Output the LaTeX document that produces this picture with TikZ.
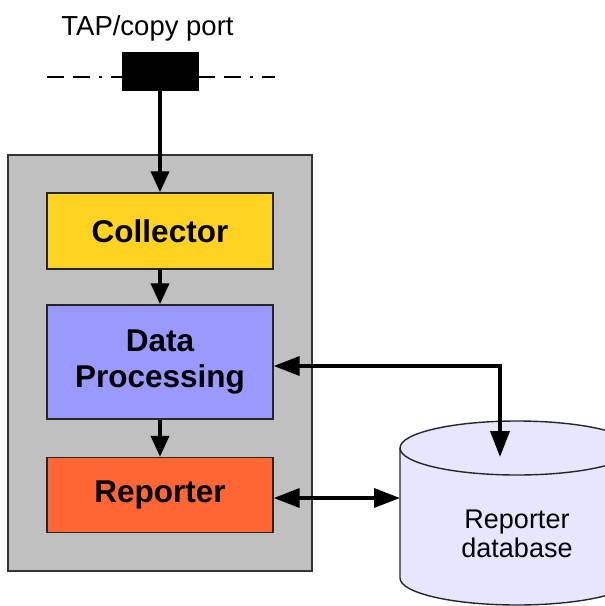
\documentclass[tikz,border=0pt]{standalone}
\usepackage{fontspec}
\setmainfont{Liberation Sans}
\usetikzlibrary{arrows.meta,calc}
\definecolor{colyel}{HTML}{FFD320}
\definecolor{colblue}{HTML}{9999FF}
\definecolor{colorange}{HTML}{FF6633}
\definecolor{colgrey}{HTML}{C0C0C0}
\definecolor{coldb}{HTML}{E6E6FF}
\tikzset{
  box/.style={draw=black!85,line width=1.4pt,minimum width=226pt,inner sep=0pt,align=center,
    font=\fontsize{31.5}{36}\selectfont\bfseries},
  conn/.style={line width=3.6pt,-{Triangle[length=21pt,width=18pt]}},
  biconn/.style={line width=3.6pt,{Triangle[length=26pt,width=19pt]}-{Triangle[length=26pt,width=19pt]}},
  tapline/.style={line width=1.8pt,dash pattern=on 17pt off 9pt on 17pt off 9pt on 3pt off 9pt},
}
\begin{document}
\begin{tikzpicture}[x=1pt,y=-1pt]
\useasboundingbox (0,0) rectangle (605,606);
\clip (0,0) rectangle (605,606);
% grey container
\node[draw=black!80,fill=colgrey,line width=1.4pt,minimum width=304pt,minimum height=416pt,inner sep=0pt] (grey) at (160,363) {};
% TAP port
\node[font=\fontsize{27.5}{30}\selectfont,anchor=base] (taplabel) at (147.5,35) {TAP/copy port};
\coordinate (tapL) at (47,77);
\coordinate (tapR) at (275,77);
\draw[tapline] (tapL) -- (122,77);
\draw[tapline] (198,77) -- (tapR);
\node[fill=black,draw=black,minimum width=76pt,minimum height=38pt,inner sep=0pt] (port) at (160,71) {};
% boxes
\node[box,fill=colyel,minimum height=76pt] (col) at (160,231) {Collector};
\node[box,fill=colblue,minimum height=114pt] (dp) at (160,362) {Data\\Processing};
\node[box,fill=colorange,minimum height=75pt] (rep) at (160,495) {Reporter};
% database cylinder
\path[fill=coldb,draw=black!85,line width=1.4pt]
  (400,448) -- (400,578) arc[start angle=180,end angle=360,x radius=117pt,y radius=27pt]
  -- (634,448) arc[start angle=0,end angle=180,x radius=117pt,y radius=27pt] -- cycle;
\draw[black!85,line width=1.4pt] (400,448) arc[start angle=180,end angle=360,x radius=117pt,y radius=27pt];
\node[font=\fontsize{27}{29}\selectfont,align=center,anchor=base] (db) at (517,557) {Reporter\\database};
\coordinate (dbtop) at (500,457);
\coordinate (dbleft) at (400,498);
% connectors
\draw[conn] (port.south) -- (col.north);
\draw[conn] (col.south) -- (dp.north);
\draw[conn] (dp.south) -- (rep.north);
\draw[biconn] ($(dp.east)+(0,4)$) -- (500,366) -- (dbtop);
\draw[biconn] ($(rep.east)+(0,3)$) -- (dbleft);
\end{tikzpicture}
\end{document}
